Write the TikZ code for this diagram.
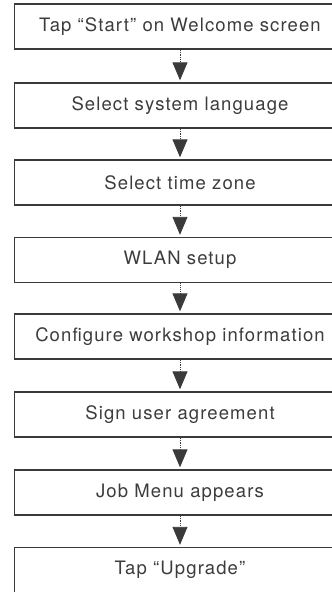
\documentclass[tikz,border=0pt]{standalone}
\usepackage{fontspec}
\setmainfont{TeX Gyre Heros}[LetterSpace=6]
\usetikzlibrary{arrows.meta}
\definecolor{ink}{HTML}{3A3A3A}
\definecolor{txt}{HTML}{3C3C3C}
\begin{document}
\begin{tikzpicture}[x=1pt,y=-1pt,
  stepbox/.style={draw=ink, line width=1.4pt, minimum width=331pt, minimum height=45pt,
    inner sep=0pt, font=\fontsize{18.5}{20}\selectfont, text=txt},
  flow/.style={ink, line width=0.9pt, densely dotted,
    -{Triangle[width=15pt,length=18pt]}, shorten >=2pt}]
\useasboundingbox (0,0) rectangle (332,592);
\begin{scope}
\clip (0,0) rectangle (332,592);
\node[stepbox] (b1) at (180,26.5) {Tap “Start” on Welcome screen};
\node[stepbox] (b2) at (180,105.5) {Select system language};
\node[stepbox] (b3) at (180,182.5) {Select time zone};
\node[stepbox] (b4) at (180,260) {WLAN setup};
\node[stepbox] (b5) at (180,336.5) {Configure workshop information};
\node[stepbox] (b6) at (180,414.5) {Sign user agreement};
\node[stepbox] (b7) at (180,492.5) {Job Menu appears};
\node[stepbox] (b8) at (180,570) {Tap “Upgrade”};
\foreach \a/\b in {b1/b2,b2/b3,b3/b4,b4/b5,b5/b6,b6/b7,b7/b8}
  \draw[flow] (\a.south) -- (\b.north);
\end{scope}
\end{tikzpicture}
\end{document}
